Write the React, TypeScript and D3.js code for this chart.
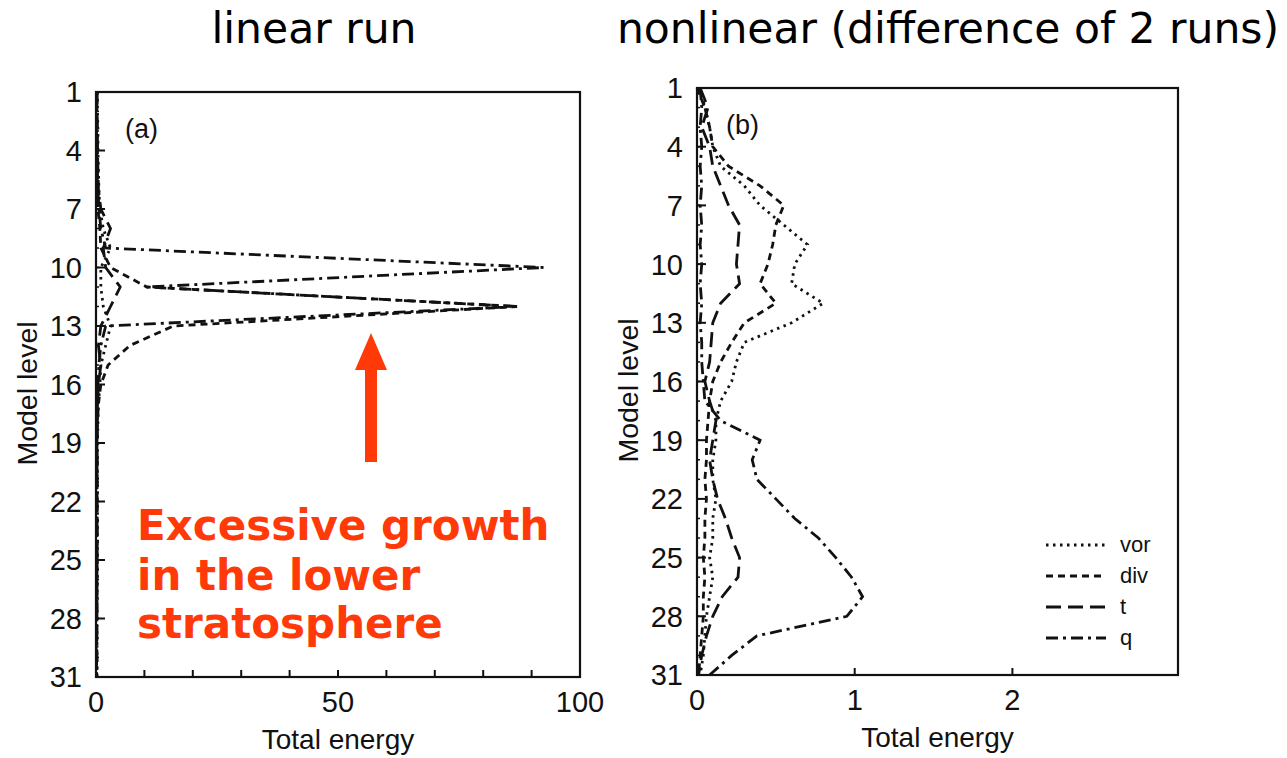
import React from 'react';
import * as d3 from 'd3';

// model levels, top (1) to bottom (31)
const levels = [1, 2, 3, 4, 5, 6, 7, 8, 9, 10, 11, 12, 13, 14, 15, 16, 17, 18, 19, 20, 21, 22, 23, 24, 25, 26, 27, 28, 29, 30, 31];
const levelTicks = [1, 4, 7, 10, 13, 16, 19, 22, 25, 28, 31];

// (a) linear run
const vorLinear = [0.3, 0.3, 0.4, 0.4, 0.5, 0.6, 0.8, 1.5, 3, 1, 1, 1.5, 3, 2, 1, 0.8, 0.5, 0.4, 0.3, 0.3, 0.3, 0.3, 0.3, 0.3, 0.3, 0.3, 0.2, 0.2, 0.2, 0.2, 0.2];
const divLinear = [0.1, 0.1, 0.1, 0.2, 0.2, 0.3, 0.4, 0.8, 1, 3, 10.5, 87, 16, 7, 2.5, 1, 0.5, 0.3, 0.2, 0.2, 0.2, 0.2, 0.2, 0.2, 0.2, 0.1, 0.1, 0.1, 0.1, 0.1, 0.1];
const tLinear = [0.2, 0.2, 0.3, 0.3, 0.4, 0.5, 1, 3, 1.5, 2, 5, 3, 1, 0.5, 1, 0.5, 0.3, 0.2, 0.2, 0.2, 0.2, 0.2, 0.2, 0.2, 0.2, 0.2, 0.2, 0.2, 0.1, 0.1, 0.1];
const qLinear = [0.2, 0.2, 0.2, 0.3, 0.3, 0.4, 0.6, 1, 2, 92.5, 10.5, 87, 2, 1, 0.6, 0.4, 0.3, 0.3, 0.2, 0.2, 0.2, 0.2, 0.2, 0.2, 0.2, 0.2, 0.2, 0.2, 0.2, 0.2, 0.2];
const energyTicksLinear = [0, 50, 100];
const minorTicksLinear = [10, 20, 30, 40, 50, 60, 70, 80, 90];

// (b) nonlinear, difference of 2 runs
const vorNonlinear = [0.02, 0.05, 0.08, 0.1, 0.15, 0.3, 0.4, 0.55, 0.7, 0.62, 0.6, 0.8, 0.6, 0.3, 0.25, 0.22, 0.15, 0.12, 0.12, 0.1, 0.1, 0.12, 0.1, 0.1, 0.08, 0.1, 0.08, 0.06, 0.05, 0.04, 0.02];
const divNonlinear = [0.0, 0.05, 0.08, 0.1, 0.2, 0.4, 0.55, 0.5, 0.48, 0.45, 0.4, 0.5, 0.3, 0.22, 0.15, 0.1, 0.08, 0.07, 0.06, 0.06, 0.05, 0.06, 0.05, 0.05, 0.04, 0.05, 0.04, 0.04, 0.03, 0.02, 0.01];
const tNonlinear = [0.02, 0.07, 0.03, 0.08, 0.1, 0.15, 0.2, 0.27, 0.26, 0.25, 0.27, 0.15, 0.1, 0.09, 0.08, 0.05, 0.08, 0.12, 0.1, 0.08, 0.1, 0.13, 0.18, 0.22, 0.27, 0.26, 0.16, 0.1, 0.06, 0.03, 0.01];
const qNonlinear = [0.02, 0.03, 0.02, 0.03, 0.02, 0.03, 0.02, 0.03, 0.02, 0.03, 0.02, 0.03, 0.02, 0.03, 0.03, 0.04, 0.05, 0.15, 0.4, 0.35, 0.38, 0.5, 0.62, 0.77, 0.88, 0.98, 1.05, 0.95, 0.38, 0.22, 0.08];
const energyTicksNonlinear = [0, 1, 2];
const minorTicksNonlinear = [1, 2];

const seriesNames = ['vor', 'div', 't', 'q'];
const dashes: Record<string, string> = {
  vor: '2.5,4.5',
  div: '7,5',
  t: '15,7',
  q: '12,5,3,5',
};

const ink = '#111';
const labelFont = '"Liberation Sans", Arial, sans-serif';
const titleFont = '"DejaVu Sans", Verdana, sans-serif';

interface PanelProps {
  left: number;
  right: number;
  top: number;
  bottom: number;
  xMax: number;
  tag: string;
  series: Record<string, number[]>;
  ticks: number[];
  minorTicks: number[];
  legend?: boolean;
}

const Panel: React.FC<PanelProps> = ({ left, right, top, bottom, xMax, tag, series, ticks, minorTicks, legend }) => {
  const x = d3.scaleLinear().domain([0, xMax]).range([left, right]);
  const y = d3.scaleLinear().domain([1, 31]).range([top, bottom]);
  const line = d3
    .line<number>()
    .x((v) => x(v))
    .y((_, i) => y(levels[i]));

  const midY = (top + bottom) / 2;

  return (
    <g>
      {/* profiles */}
      {seriesNames.map((name) => (
        <path
          key={name}
          d={line(series[name]) || ''}
          fill="none"
          stroke={ink}
          strokeWidth={2.8}
          strokeDasharray={dashes[name]}
        />
      ))}

      {/* frame */}
      <rect x={left} y={top} width={right - left} height={bottom - top} fill="none" stroke={ink} strokeWidth={2.2} />

      {/* y ticks */}
      {levels.map((l) => (
        <line key={'m' + l} x1={left} x2={left + 3} y1={y(l)} y2={y(l)} stroke={ink} strokeWidth={1.5} />
      ))}
      {levelTicks.map((l) => (
        <g key={'y' + l}>
          <line x1={left} x2={left + 9} y1={y(l)} y2={y(l)} stroke={ink} strokeWidth={2} />
          <text
            x={left - 14}
            y={y(l)}
            dy="0.36em"
            textAnchor="end"
            fontFamily={labelFont}
            fontSize={29}
            fill={ink}
          >
            {l}
          </text>
        </g>
      ))}

      {/* x ticks */}
      {minorTicks.map((t) => (
        <line key={'x' + t} x1={x(t)} x2={x(t)} y1={bottom} y2={bottom - 7} stroke={ink} strokeWidth={2} />
      ))}
      {ticks.map((t) => (
        <text
          key={'xl' + t}
          x={x(t)}
          y={bottom + 35}
          textAnchor="middle"
          fontFamily={labelFont}
          fontSize={29}
          fill={ink}
        >
          {t}
        </text>
      ))}

      {/* axis titles */}
      <text
        x={(left + right) / 2}
        y={bottom + 72}
        textAnchor="middle"
        fontFamily={labelFont}
        fontSize={28}
        fill={ink}
      >
        Total energy
      </text>
      <text
        transform={`translate(${left - 59},${midY + 9}) rotate(-90)`}
        textAnchor="middle"
        fontFamily={labelFont}
        fontSize={28.5}
        fill={ink}
      >
        Model level
      </text>

      {/* panel tag */}
      <text x={left + 29} y={top + 46} fontFamily={labelFont} fontSize={27} fill={ink}>
        {tag}
      </text>

      {legend &&
        seriesNames.map((name, i) => {
          const ly = 545 + i * 31;
          return (
            <g key={'lg' + name}>
              <line
                x1={1046}
                x2={1106}
                y1={ly}
                y2={ly}
                stroke={ink}
                strokeWidth={2.8}
                strokeDasharray={dashes[name]}
              />
              <text x={1120} y={ly} dy="0.3em" fontFamily={labelFont} fontSize={22} fill={ink}>
                {name}
              </text>
            </g>
          );
        })}
    </g>
  );
};

const App: React.FC = () => {
  const red = '#ff3a08';
  return (
    <svg
      width={1287}
      height={758}
      style={{ position: 'absolute', left: 0, top: 0, background: '#fff' }}
    >
      <rect width={1287} height={758} fill="#fff" />

      {/* titles */}
      <text x={314} y={43} textAnchor="middle" fontFamily={titleFont} fontSize={42.5} fill="#000">
        linear run
      </text>
      <text x={948} y={43} textAnchor="middle" fontFamily={titleFont} fontSize={42.5} fill="#000">
        nonlinear (difference of 2 runs)
      </text>

      <Panel
        left={96}
        right={580}
        top={92}
        bottom={677}
        xMax={100}
        tag="(a)"
        series={{ vor: vorLinear, div: divLinear, t: tLinear, q: qLinear }}
        ticks={energyTicksLinear}
        minorTicks={minorTicksLinear}
      />
      <Panel
        left={697}
        right={1178}
        top={88}
        bottom={675}
        xMax={3.05}
        tag="(b)"
        series={{ vor: vorNonlinear, div: divNonlinear, t: tNonlinear, q: qNonlinear }}
        ticks={energyTicksNonlinear}
        minorTicks={minorTicksNonlinear}
        legend
      />

      {/* annotation */}
      <path d="M365,462 L365,370 L355,370 L371,333 L387,370 L377,370 L377,462 Z" fill={red} />
      <g fontFamily={titleFont} fontWeight="bold" fontSize={42} fill={red}>
        <text x={137} y={540}>Excessive growth</text>
        <text x={137} y={590}>in the lower</text>
        <text x={137} y={638}>stratosphere</text>
      </g>
    </svg>
  );
};

export default App;
